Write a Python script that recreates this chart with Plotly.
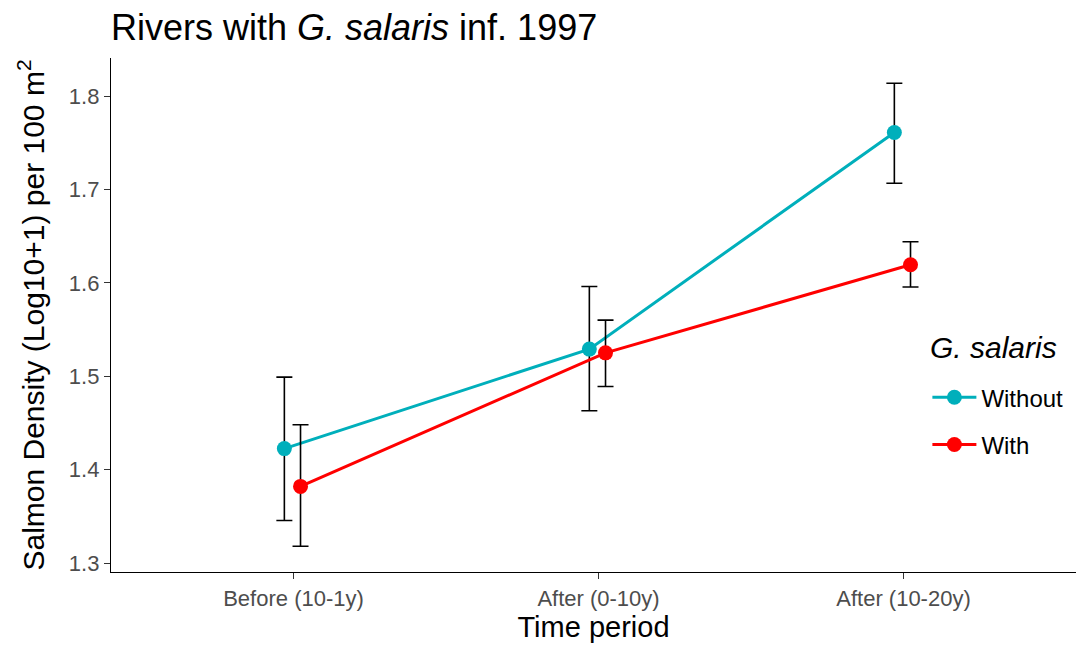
import plotly.graph_objects as go

# Time periods relative to G. salaris infection (1997)
periods = ["Before (10-1y)", "After (0-10y)", "After (10-20y)"]

# Mean salmon density (log10+1 per 100 m2) with error bar limits
without_mean = [1.4225, 1.529, 1.761]
without_low = [1.3455, 1.463, 1.7066]
without_high = [1.499, 1.596, 1.8136]

with_mean = [1.382, 1.525, 1.6193]
with_low = [1.318, 1.489, 1.5955]
with_high = [1.448, 1.560, 1.644]

# horizontal dodge so the two groups don't overlap
DODGE = {"Without": -0.03, "With": 0.023}
COLORS = {"Without": "#00AFBB", "With": "#FF0000"}

FONT = "Liberation Sans, Arial, sans-serif"

fig = go.Figure()

groups = [
    ("Without", without_mean, without_low, without_high),
    ("With", with_mean, with_low, with_high),
]
for name, mean, low, high in groups:
    xs = [i + 1 + DODGE[name] for i in range(len(periods))]
    fig.add_trace(go.Scatter(
        x=xs,
        y=mean,
        mode="lines+markers",
        name=name,
        legendgroup=name,
        line=dict(color=COLORS[name], width=3),
        marker=dict(color=COLORS[name], size=15),
        error_y=dict(
            type="data",
            symmetric=False,
            array=[h - m for h, m in zip(high, mean)],
            arrayminus=[m - l for m, l in zip(mean, low)],
            color="black",
            thickness=1.6,
            width=8,
        ),
    ))

# legend heading drawn as its own label above the entries
fig.add_annotation(
    text="<i>G. salaris</i>",
    xref="paper",
    yref="paper",
    x=0.8466,
    y=0.4377,
    xanchor="left",
    yanchor="middle",
    showarrow=False,
    font=dict(size=30, color="black", family=FONT),
)

fig.update_layout(
    width=1076,
    height=649,
    paper_bgcolor="white",
    plot_bgcolor="white",
    margin=dict(l=111, r=0, t=58, b=77),
    font=dict(family=FONT, color="black"),
    title=dict(
        text="Rivers with <i>G. salaris</i> inf. 1997",
        x=111 / 1076,
        xanchor="left",
        y=1 - 27 / 649,
        yanchor="middle",
        font=dict(size=36, color="black", family=FONT),
    ),
    xaxis=dict(
        range=[0.4016, 3.5656],
        tickmode="array",
        tickvals=[1, 2, 3],
        ticktext=periods,
        showline=True,
        linecolor="black",
        linewidth=1.3,
        ticks="outside",
        ticklen=6,
        tickcolor="#333333",
        tickfont=dict(size=22, color="#4D4D4D", family=FONT),
        showgrid=False,
        zeroline=False,
        title=dict(text="Time period", font=dict(size=29, color="black", family=FONT), standoff=4),
    ),
    yaxis=dict(
        range=[1.29036, 1.8407],
        tickmode="array",
        tickvals=[1.3, 1.4, 1.5, 1.6, 1.7, 1.8],
        ticktext=["1.3", "1.4", "1.5", "1.6", "1.7", "1.8"],
        showline=True,
        linecolor="black",
        linewidth=1.3,
        ticks="outside",
        ticklen=6,
        tickcolor="#333333",
        tickfont=dict(size=22, color="#4D4D4D", family=FONT),
        showgrid=False,
        zeroline=False,
        title=dict(
            text="Salmon Density (Log10+1) per 100 m<sup>2</sup>",
            font=dict(size=30, color="black", family=FONT),
            standoff=15,
        ),
    ),
    legend=dict(
        x=0.846,
        xanchor="left",
        y=0.383,
        yanchor="top",
        font=dict(size=24, color="black", family=FONT),
        bgcolor="rgba(0,0,0,0)",
        tracegroupgap=13,
        traceorder="grouped",
        itemwidth=44,
    ),
)

fig.write_html("out.html")
